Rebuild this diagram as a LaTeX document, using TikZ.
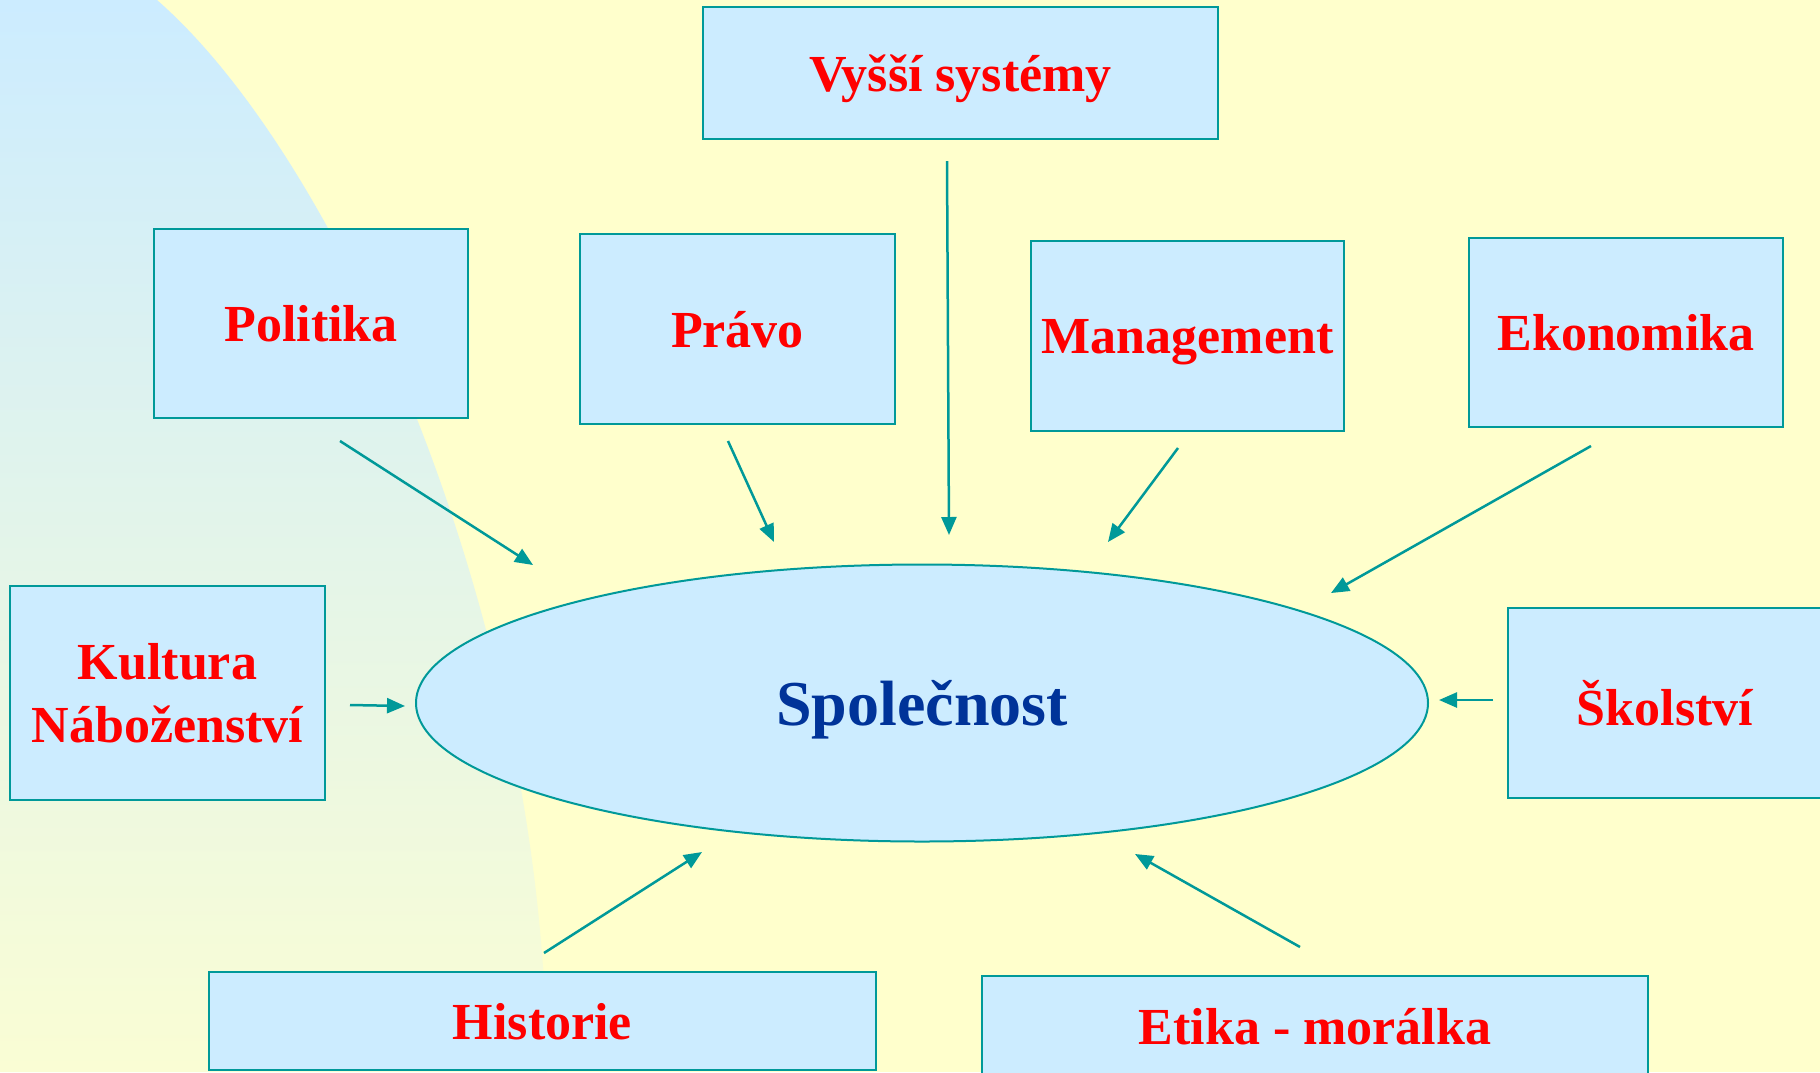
\documentclass[tikz,border=0pt]{standalone}
\usepackage{fontspec}
\setmainfont{Liberation Serif}
\usetikzlibrary{shapes.geometric,arrows.meta,calc}
\definecolor{bgy}{HTML}{FFFFCC}
\definecolor{boxb}{HTML}{CCECFF}
\definecolor{tealc}{HTML}{009999}
\definecolor{txtred}{HTML}{FF0000}
\definecolor{txtblue}{HTML}{003399}
\definecolor{fadey}{HTML}{FAFDD4}
\begin{document}
\begin{tikzpicture}[x=1pt,y=-1pt,
  box/.style={draw=tealc, line width=2pt, fill=boxb, text=txtred,
    font=\fontsize{52}{63}\selectfont\bfseries, align=center, inner sep=0pt, text depth=0pt},
  arr/.style={draw=tealc, line width=2.5pt, -{Triangle[length=18pt,width=15pt]}}]
\fill[bgy] (0,0) rectangle (1820,1072);
\useasboundingbox (0,0) rectangle (1820,1072);
\begin{scope}
\clip (0,0) -- (157,0) .. controls (340,160) and (545,620) .. (547,1072) -- (0,1072) -- cycle;
\shade[top color=boxb, bottom color=fadey] (0,0) rectangle (600,1072);
\end{scope}

\node[box, minimum width=515pt, minimum height=132pt] (vys) at (960.5,73) {Vyšší systémy};
\node[box, minimum width=314pt, minimum height=189pt] (pol) at (311,323.5) {Politika};
\node[box, minimum width=315pt, minimum height=190pt] (pra) at (737.5,329) {Právo};
\node[box, minimum width=313pt, minimum height=190pt] (man) at (1187.5,336) {Management};
\node[box, minimum width=314pt, minimum height=189pt] (eko) at (1626,332.5) {Ekonomika};
\node[box, minimum width=315pt, minimum height=214pt] (kul) at (167.5,693) {Kultura\\Náboženství};
\node[box, minimum width=314pt, minimum height=190pt] (sko) at (1665,703) {Školství};
\node[box, minimum width=667pt, minimum height=98pt] (his) at (542.5,1021) {Historie};
\node[box, minimum width=666pt, minimum height=100pt] (eti) at (1315,1026) {Etika - morálka};

\node[ellipse, draw=tealc, line width=2pt, fill=boxb, text=txtblue,
  font=\fontsize{64}{70}\selectfont\bfseries, minimum width=1012pt, minimum height=277pt,
  inner sep=0pt, text depth=0pt] (spol) at (922,703) {Společnost};

\draw[arr] ($(pol.south)+(29,22)$) -- ($(spol.center)+(-389,-138)$);
\draw[arr] ($(pra.south)+(-9.5,16)$) -- ($(spol.center)+(-148,-161)$);
\draw[arr] ($(vys.south)+(-13.5,21)$) -- ($(spol.center)+(27,-168)$);
\draw[arr] ($(man.south)+(-9.5,16)$) -- ($(spol.center)+(186,-161)$);
\draw[arr] ($(eko.south)+(-35,18)$) -- ($(spol.center)+(409,-110)$);
\draw[arr] ($(kul.east)+(24,12)$) -- ($(spol.west)+(-10,3)$);
\draw[arr] ($(sko.west)+(-14,-3)$) -- ($(spol.east)+(10,-3)$);
\draw[arr] ($(his.north)+(1.5,-18)$) -- ($(spol.center)+(-220,149)$);
\draw[arr] ($(eti.north)+(-15,-28)$) -- ($(spol.center)+(213,151)$);
\end{tikzpicture}
\end{document}
